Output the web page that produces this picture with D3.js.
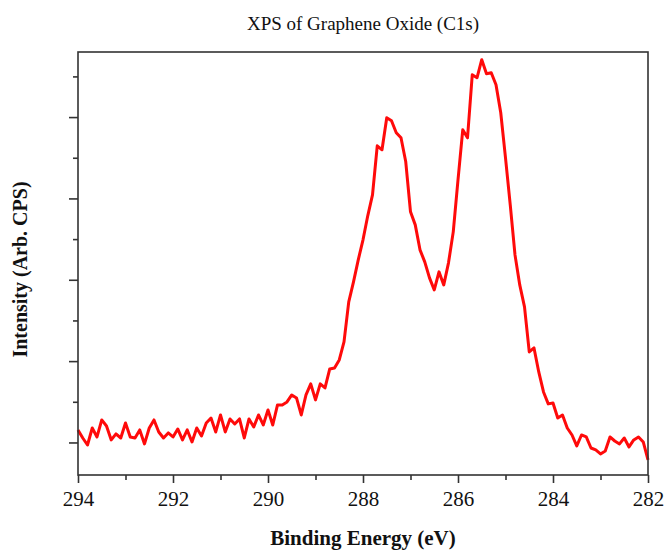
<!DOCTYPE html>
<html>
<head>
<meta charset="utf-8">
<script src="https://cdn.jsdelivr.net/npm/d3@7"></script>
<style>
  html, body { margin: 0; padding: 0; background: #fff; }
  svg { display: block; }
  text { font-family: "Liberation Serif", "Times New Roman", serif; fill: #111; }
</style>
</head>
<body>
<svg id="chart" width="666" height="550"></svg>
<script>
// C1s high-resolution scan, binding energy from 294.0 eV down to 282.0 eV in 0.1 eV steps
const energyStart = 294.0;
const energyStep = -0.1;
const intensity = [
  154, 55, -31, 178, 68, 277, 203, 31, 105, 55,
  240, 68, 55, 154, -18, 178, 277, 129, 55, 117,
  68, 166, 31, 154, 6, 178, 80, 240, 301, 129,
  338, 129, 289, 228, 289, 55, 289, 191, 338, 215,
  400, 215, 461, 461, 498, 584, 547, 338, 584, 720,
  523, 720, 670, 904, 916, 1015, 1236, 1728, 1974, 2245,
  2491, 2786, 3044, 3647, 3598, 3991, 3954, 3807, 3745, 3450,
  2835, 2675, 2368, 2220, 2023, 1876, 2097, 1937, 2208, 2589,
  3229, 3844, 3745, 4520, 4483, 4705, 4533, 4545, 4397, 4053,
  3499, 2921, 2306, 1937, 1667, 1113, 1162, 867, 621, 474,
  486, 301, 338, 178, 92, -43, 92, 68, -68, -92,
  -141, -105, 68, 18, -18, 55, -55, 31, 68, 6,
  -215
];
const energyTicks = [294, 292, 290, 288, 286, 284, 282];
const energyMinorTicks = [293, 291, 289, 287, 285, 283];
const intensityTicks = [0, 1000, 2000, 3000, 4000];
const intensityMinorTicks = [500, 1500, 2500, 3500, 4500];

const titleText = "XPS of Graphene Oxide (C1s)";
const xLabel = "Binding Energy (eV)";
const yLabel = "Intensity (Arb. CPS)";

const points = intensity.map((v, i) => ({ e: energyStart + i * energyStep, v }));

const svg = d3.select("#chart");
const plotLeft = 78, plotRight = 648, plotTop = 52, plotBottom = 475;

const x = d3.scaleLinear().domain([294, 282]).range([plotLeft, plotRight]);
const y = d3.scaleLinear().domain([-400, 4800]).range([plotBottom, plotTop]);

// spectrum
svg.append("path")
  .datum(points)
  .attr("fill", "none")
  .attr("stroke", "#ff0a0a")
  .attr("stroke-width", 3)
  .attr("stroke-linejoin", "round")
  .attr("d", d3.line().x(d => x(d.e)).y(d => y(d.v)));

// frame
svg.append("rect")
  .attr("x", plotLeft).attr("y", plotTop)
  .attr("width", plotRight - plotLeft).attr("height", plotBottom - plotTop)
  .attr("fill", "none").attr("stroke", "#333").attr("stroke-width", 1.6);

// bottom axis: labelled major ticks and short minor ticks
const xAxis = svg.append("g")
  .attr("transform", `translate(0,${plotBottom})`)
  .call(d3.axisBottom(x).tickValues(energyTicks).tickSize(8).tickPadding(8).tickFormat(d3.format("d")));
xAxis.select(".domain").remove();
xAxis.selectAll(".tick line").attr("stroke", "#333").attr("stroke-width", 1.6);
xAxis.selectAll(".tick text")
  .style("font-family", '"Liberation Serif", serif')
  .style("font-size", "21px").attr("fill", "#222");

const xMinor = svg.append("g")
  .attr("transform", `translate(0,${plotBottom})`)
  .call(d3.axisBottom(x).tickValues(energyMinorTicks).tickSize(5).tickFormat(""));
xMinor.select(".domain").remove();
xMinor.selectAll(".tick line").attr("stroke", "#333").attr("stroke-width", 1.6);

// left axis: ticks only, intensity is arbitrary
const yAxis = svg.append("g")
  .attr("transform", `translate(${plotLeft},0)`)
  .call(d3.axisLeft(y).tickValues(intensityTicks).tickSize(9).tickFormat(""));
yAxis.select(".domain").remove();
yAxis.selectAll(".tick line").attr("stroke", "#333").attr("stroke-width", 1.6);

const yMinor = svg.append("g")
  .attr("transform", `translate(${plotLeft},0)`)
  .call(d3.axisLeft(y).tickValues(intensityMinorTicks).tickSize(5).tickFormat(""));
yMinor.select(".domain").remove();
yMinor.selectAll(".tick line").attr("stroke", "#333").attr("stroke-width", 1.6);

// titles
svg.append("text")
  .attr("x", (plotLeft + plotRight) / 2).attr("y", 30)
  .attr("text-anchor", "middle")
  .style("font-size", "19px")
  .text(titleText);

svg.append("text")
  .attr("x", (plotLeft + plotRight) / 2).attr("y", 545)
  .attr("text-anchor", "middle")
  .style("font-size", "21px").style("font-weight", "bold")
  .text(xLabel);

svg.append("text")
  .attr("transform", `translate(27,${(plotTop + plotBottom) / 2 + 6}) rotate(-90)`)
  .attr("text-anchor", "middle")
  .style("font-size", "20px").style("font-weight", "bold")
  .text(yLabel);
</script>
</body>
</html>
